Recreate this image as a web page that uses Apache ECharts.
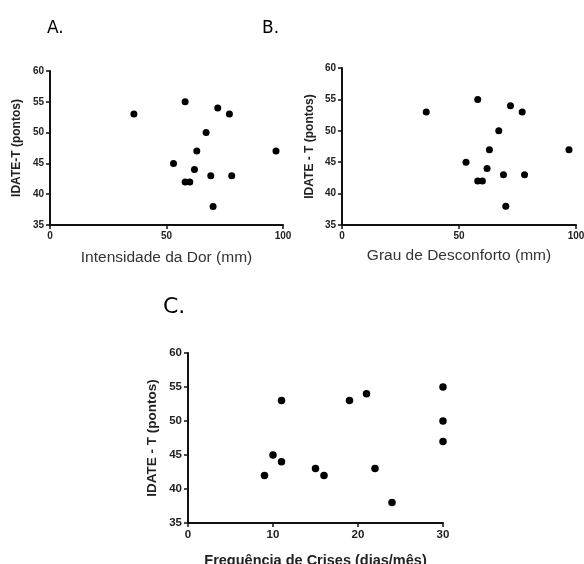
<!DOCTYPE html>
<html><head><meta charset="utf-8">
<script src="https://cdn.jsdelivr.net/npm/echarts@6/dist/echarts.min.js"></script>
<style>html,body{margin:0;padding:0;background:#fff}#c{width:584px;height:564px}</style>
</head><body><div id="c"></div>
<script>
// Panel A: Intensidade da Dor (mm) vs IDATE-T
const aX = [36, 58, 72, 77, 67, 63, 97, 53, 62, 69, 78, 58, 60, 70];
const aY = [53, 55, 54, 53, 50, 47, 47, 45, 44, 43, 43, 42, 42, 38];
// Panel B: Grau de Desconforto (mm) vs IDATE-T
const bX = [36, 58, 72, 77, 67, 63, 97, 53, 62, 69, 78, 58, 60, 70];
const bY = [53, 55, 54, 53, 50, 47, 47, 45, 44, 43, 43, 42, 42, 38];
// Panel C: Frequência de Crises (dias/mês) vs IDATE-T
const cX = [9, 10, 11, 11, 15, 16, 19, 21, 22, 24, 30, 30, 30];
const cY = [42, 45, 44, 53, 43, 42, 53, 54, 43, 38, 55, 50, 47];

const panelTitles = ['A.', 'B.', 'C.'];
const xNames = ['Intensidade da Dor (mm)', 'Grau de Desconforto (mm)', 'Frequência de Crises (dias/mês)'];
const yNames = ['IDATE-T (pontos)', 'IDATE - T (pontos)', 'IDATE - T (pontos)'];

const pair = (xs, ys) => xs.map((x, i) => [x, ys[i]]);

const FF = 'Liberation Sans, Arial, sans-serif';
const axisLine = { lineStyle: { color: '#111', width: 2 } };
const axisTick = { length: 4, lineStyle: { color: '#111', width: 1.5 } };

function xAxis(idx, max, interval, name, nameGap, nameStyle, lblSize) {
  return {
    type: 'value', gridIndex: idx, min: 0, max: max, interval: interval,
    axisLine: axisLine, axisTick: axisTick, splitLine: { show: false },
    axisLabel: { margin: 6, color: '#222', fontSize: lblSize, fontWeight: 'bold', fontFamily: FF },
    name: name, nameLocation: 'middle', nameGap: nameGap,
    nameTextStyle: nameStyle
  };
}
function yAxis(idx, name, nameGap, nameSize, lblSize) {
  return {
    type: 'value', gridIndex: idx, min: 35, max: 60, interval: 5,
    axisLine: axisLine, axisTick: axisTick, splitLine: { show: false },
    axisLabel: { margin: 6, color: '#222', fontSize: lblSize, fontWeight: 'bold', fontFamily: FF },
    name: name, nameLocation: 'middle', nameGap: nameGap,
    nameTextStyle: { color: '#222', fontSize: nameSize, fontWeight: 'bold', fontFamily: FF }
  };
}
const regularName = { color: '#333', fontSize: 15.5, fontFamily: FF };
const boldName = { color: '#222', fontSize: 14.5, fontWeight: 'bold', fontFamily: FF };

const titleStyle = { color: '#000', fontSize: 17, fontWeight: 'normal', fontFamily: 'DejaVu Sans, sans-serif' };

const option = {
  backgroundColor: '#fff',
  animation: false,
  title: [
    { text: panelTitles[0], left: 42, top: 15, textStyle: titleStyle },
    { text: panelTitles[1], left: 257, top: 15, textStyle: titleStyle },
    { text: panelTitles[2], left: 158, top: 291, textStyle: Object.assign({}, titleStyle, { fontSize: 22 }) }
  ],
  grid: [
    { left: 50, top: 71, width: 233, height: 154, outerBoundsMode: 'none', containLabel: false },
    { left: 342, top: 68, width: 234, height: 157, outerBoundsMode: 'none', containLabel: false },
    { left: 188, top: 353, width: 255, height: 170, outerBoundsMode: 'none', containLabel: false }
  ],
  xAxis: [
    xAxis(0, 100, 50, xNames[0], 25, regularName, 10),
    xAxis(1, 100, 50, xNames[1], 23, regularName, 10),
    xAxis(2, 30, 10, xNames[2], 30, boldName, 11.5)
  ],
  yAxis: [
    yAxis(0, yNames[0], 27, 12, 10),
    yAxis(1, yNames[1], 26, 12, 10),
    yAxis(2, yNames[2], 29, 13.5, 11.5)
  ],
  series: [
    { type: 'scatter', xAxisIndex: 0, yAxisIndex: 0, data: pair(aX, aY), symbolSize: 7, itemStyle: { color: '#000', opacity: 1 } },
    { type: 'scatter', xAxisIndex: 1, yAxisIndex: 1, data: pair(bX, bY), symbolSize: 7, itemStyle: { color: '#000', opacity: 1 } },
    { type: 'scatter', xAxisIndex: 2, yAxisIndex: 2, data: pair(cX, cY), symbolSize: 7.5, itemStyle: { color: '#000', opacity: 1 } }
  ]
};
const chart = echarts.init(document.getElementById('c'), null, { renderer: 'canvas' });
chart.setOption(option);
</script>
</body></html>
